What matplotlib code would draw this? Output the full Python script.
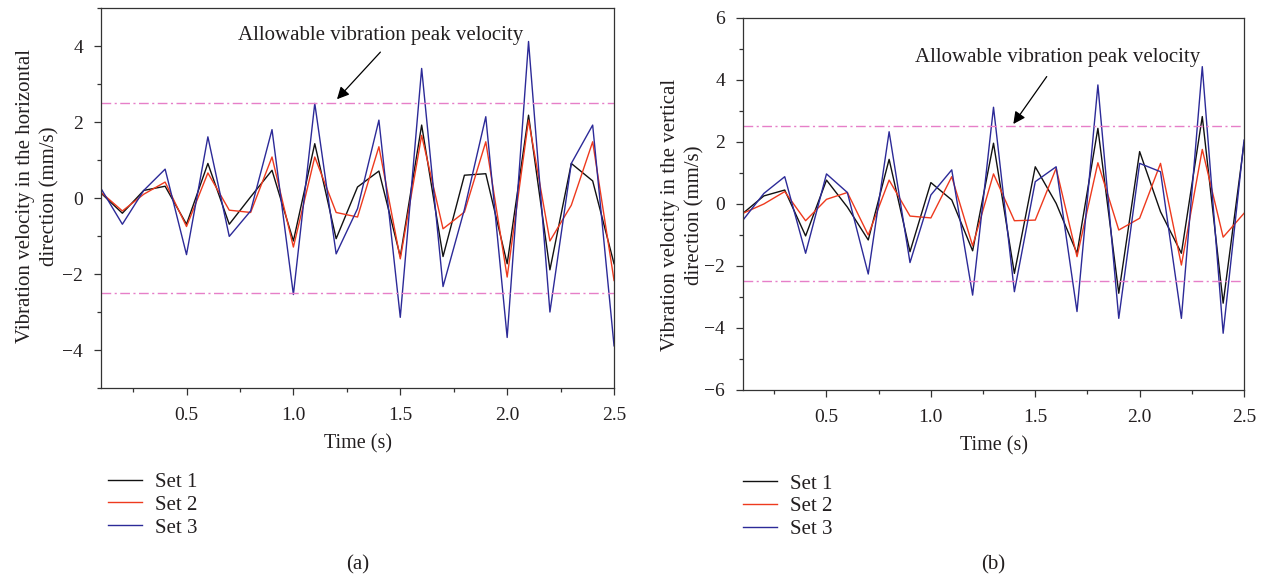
import matplotlib
matplotlib.use("Agg")
import matplotlib.pyplot as plt
from matplotlib.ticker import MultipleLocator

plt.rcParams['font.family'] = ['Liberation Serif', 'DejaVu Serif']
plt.rcParams['text.color'] = '#231f20'
plt.rcParams['axes.labelcolor'] = '#231f20'
plt.rcParams['xtick.color'] = '#333333'
plt.rcParams['ytick.color'] = '#333333'
plt.rcParams['xtick.labelcolor'] = '#231f20'
plt.rcParams['ytick.labelcolor'] = '#231f20'

# time axis (s)
t = [0.1, 0.2, 0.3, 0.4, 0.5, 0.6, 0.7, 0.8, 0.9, 1.0, 1.1, 1.2, 1.3,
     1.4, 1.5, 1.6, 1.7, 1.8, 1.9, 2.0, 2.1, 2.2, 2.3, 2.4, 2.5]

# (a) horizontal direction, mm/s
h_set1 = [0.13, -0.40, 0.20, 0.31, -0.69, 0.91, -0.69, 0.03, 0.73, -1.13, 1.43, -1.07, 0.29,
          0.71, -1.54, 1.92, -1.54, 0.60, 0.64, -1.73, 2.18, -1.89, 0.91, 0.45, -1.73]
h_set2 = [0.15, -0.34, 0.10, 0.42, -0.75, 0.66, -0.32, -0.38, 1.08, -1.29, 1.08, -0.38, -0.50,
          1.35, -1.60, 1.65, -0.81, -0.37, 1.48, -2.08, 2.05, -1.13, -0.19, 1.48, -2.17]
h_set3 = [0.25, -0.69, 0.20, 0.76, -1.49, 1.61, -1.01, -0.34, 1.80, -2.54, 2.49, -1.47, -0.28,
          2.05, -3.14, 3.41, -2.33, -0.30, 2.14, -3.67, 4.12, -3.00, 0.91, 1.92, -3.89]

# (b) vertical direction, mm/s
v_set1 = [-0.30, 0.26, 0.45, -1.03, 0.77, -0.10, -1.16, 1.44, -1.54, 0.69, 0.13, -1.51, 1.96,
          -2.24, 1.20, 0.02, -1.59, 2.44, -2.88, 1.69, -0.25, -1.59, 2.82, -3.20, 1.96]
v_set2 = [-0.30, 0.00, 0.40, -0.54, 0.15, 0.37, -1.00, 0.77, -0.39, -0.45, 0.88, -1.35, 0.97,
          -0.54, -0.52, 1.15, -1.70, 1.33, -0.84, -0.46, 1.31, -1.97, 1.76, -1.07, -0.30]
v_set3 = [-0.52, 0.34, 0.88, -1.59, 0.97, 0.37, -2.26, 2.33, -1.89, 0.29, 1.10, -2.94, 3.12,
          -2.83, 0.72, 1.20, -3.47, 3.84, -3.69, 1.31, 1.04, -3.69, 4.43, -4.17, 2.06]

limit = 2.5
labels = ['Set 1', 'Set 2', 'Set 3']
colors = ['#111111', '#ee3a1e', '#2c2a98']

fig = plt.figure(figsize=(12.64, 5.78), dpi=100)
ax1 = fig.add_axes([0.0799, 0.3287, 0.4059, 0.6574])
ax2 = fig.add_axes([0.5878, 0.3253, 0.3964, 0.6436])


def draw(ax, series, ylim, ymajor, ylabel, text_xy, tail, head, leg_xy, tag):
    for s, c, lab in zip(series, colors, labels):
        ax.plot(t, s, color=c, lw=1.0, label=lab)
    for yv in (limit, -limit):
        ax.axhline(yv, color='#e67fc8', lw=1.0, dashes=(7, 2.5, 1.5, 2.5))
    ax.set_xlim(0.1, 2.5)
    ax.set_ylim(*ylim)
    ax.xaxis.set_major_locator(MultipleLocator(0.5))
    ax.xaxis.set_minor_locator(MultipleLocator(0.25))
    ax.yaxis.set_major_locator(MultipleLocator(ymajor))
    ax.yaxis.set_minor_locator(MultipleLocator(ymajor / 2))
    ax.tick_params(which='major', direction='out', length=5, width=0.9, labelsize=14, pad=8)
    ax.tick_params(which='minor', direction='out', length=3, width=0.9)
    ax.tick_params(axis='x', which='major', pad=9)
    for sp in ax.spines.values():
        sp.set_color('#333333')
        sp.set_linewidth(0.9)
    ax.set_xlabel('Time (s)', fontsize=14.5, labelpad=7)
    ax.set_ylabel(ylabel, fontsize=15, linespacing=1.4)
    ax.text(text_xy[0], text_xy[1], 'Allowable vibration peak velocity',
            fontsize=15, ha='center', va='center')
    ax.annotate('', xy=head, xytext=tail,
                arrowprops=dict(arrowstyle='-|>', color='black', lw=0.9,
                                mutation_scale=18, shrinkA=0, shrinkB=0))
    ax.legend(loc='upper left', bbox_to_anchor=leg_xy, bbox_transform=fig.transFigure,
              frameon=False, fontsize=15, handlelength=1.65, handletextpad=0.6,
              labelspacing=0.16, borderpad=0, borderaxespad=0)
    fig.text(ax.get_position().x0 + ax.get_position().width / 2, (578 - 565) / 578,
             tag, fontsize=15, ha='center', va='center')


draw(ax1, [h_set1, h_set2, h_set3], (-5, 5), 2,
     'Vibration velocity in the horizontal\ndirection (mm/s)',
     (1.41, 4.29), (1.407, 3.84), (1.204, 2.60), (108 / 1264, 0.183), '(a)')
ax1.yaxis.set_label_coords(-0.0805, 0.505)

draw(ax2, [v_set1, v_set2, v_set3], (-6, 6), 2,
     'Vibration velocity in the vertical\ndirection (mm/s)',
     (1.605, 4.74), (1.555, 4.11), (1.395, 2.58), (743 / 1264, 0.180), '(b)')
ax2.yaxis.set_label_coords(-0.0764, 0.47)

fig.savefig('out.png', dpi=100)
